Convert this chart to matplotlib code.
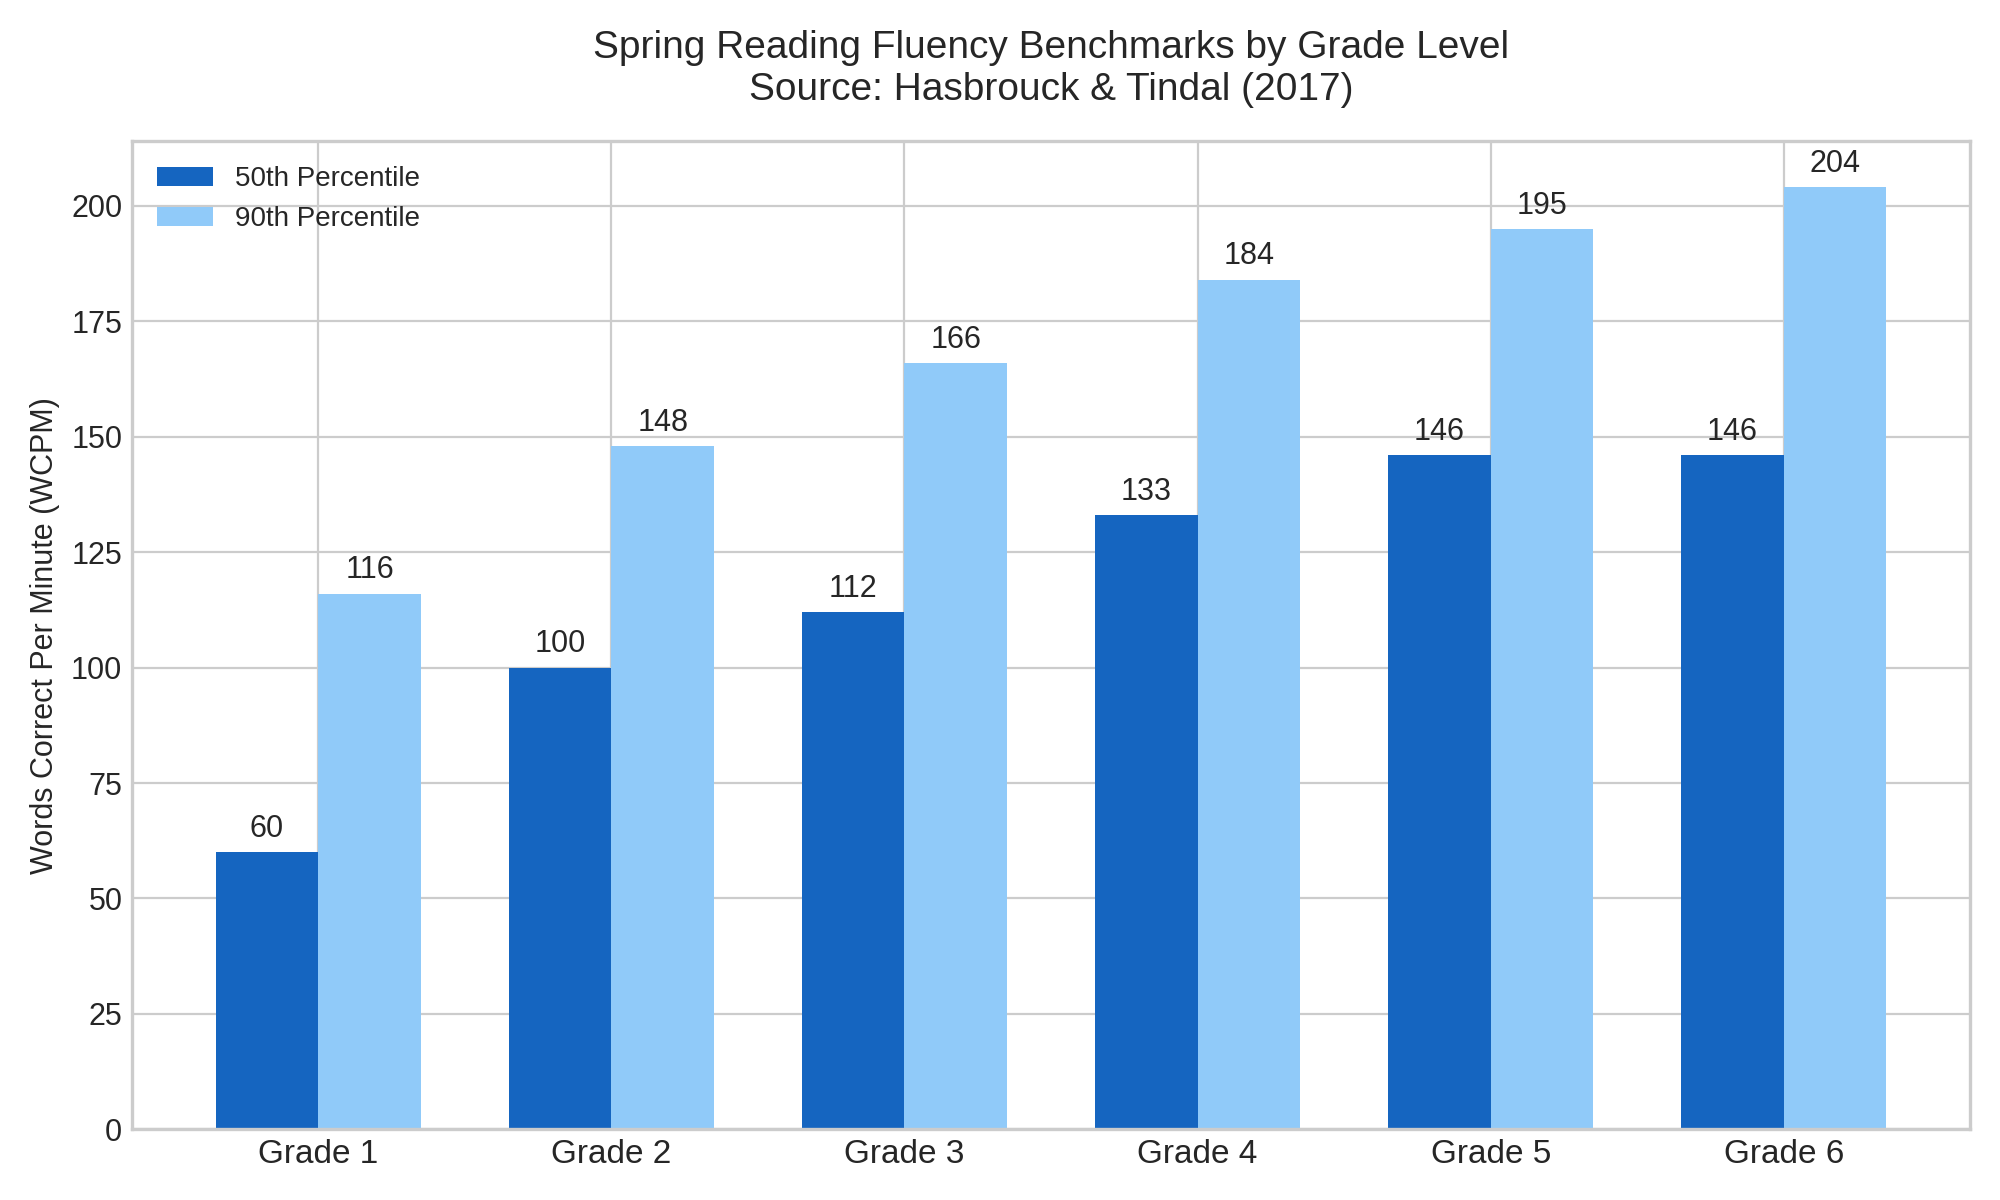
import matplotlib
matplotlib.use("Agg")
import matplotlib.pyplot as plt
import numpy as np

grades = ["Grade 1", "Grade 2", "Grade 3", "Grade 4", "Grade 5", "Grade 6"]
p50 = [60, 100, 112, 133, 146, 146]
p90 = [116, 148, 166, 184, 195, 204]

plt.style.use("seaborn-v0_8-whitegrid")
plt.rcParams['font.family'] = ['Liberation Sans', 'DejaVu Sans']

fig, ax = plt.subplots(figsize=(10, 6), dpi=200)
x = np.arange(len(grades))
w = 0.35

b1 = ax.bar(x - w / 2, p50, w, color="#1565C0", label="50th Percentile")
b2 = ax.bar(x + w / 2, p90, w, color="#90CAF9", label="90th Percentile")

for bars in (b1, b2):
    for b in bars:
        ax.annotate(f"{int(b.get_height())}",
                    xy=(b.get_x() + b.get_width() / 2, b.get_height()),
                    xytext=(0, 3), textcoords="offset points",
                    ha="center", va="bottom", fontsize=11, color="#262626")

ax.set_xticks(x)
ax.set_xticklabels(grades, fontsize=12)
ax.tick_params(axis="y", labelsize=11)
ax.set_ylabel("Words Correct Per Minute (WCPM)", fontsize=11)
ax.set_title("Spring Reading Fluency Benchmarks by Grade Level\nSource: Hasbrouck & Tindal (2017)",
             fontsize=14, pad=15)
ax.set_ylim(0, 214)
for s in ax.spines.values():
    s.set_visible(True)
    s.set_color("#cccccc")
    s.set_linewidth(1.2)
ax.legend(loc="upper left", fontsize=10)

fig.tight_layout()
fig.savefig("out.png")
